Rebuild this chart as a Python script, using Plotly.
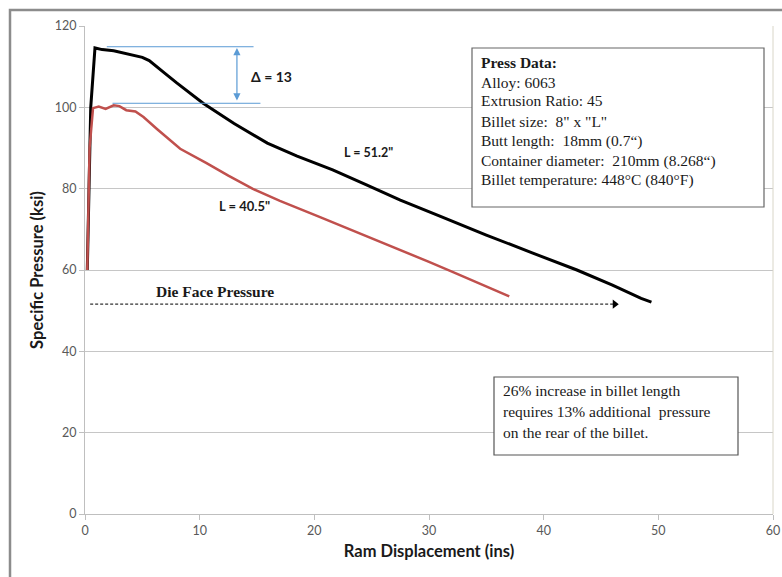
import plotly.graph_objects as go

# ---- data ----
x_long = [0.2, 0.5, 0.87, 1.5, 2.5, 4.0, 5.0, 5.6, 6.2, 7.0, 8.0, 10.3, 13.0, 15.9, 18.5, 21.6, 24.5, 27.5, 31.0, 35.0, 39.0, 42.9, 46.0, 48.5, 49.4]
y_long = [60.0, 100.0, 114.6, 114.2, 113.9, 113.0, 112.3, 111.5, 110.2, 108.3, 106.0, 101.0, 96.0, 91.2, 88.0, 84.6, 81.0, 77.2, 73.2, 68.6, 64.2, 60.0, 56.3, 53.0, 52.1]

x_short = [0.2, 0.4, 0.7, 1.2, 1.8, 2.5, 3.0, 3.6, 4.4, 5.1, 6.3, 7.5, 8.3, 10.6, 12.5, 14.6, 17.0, 20.5, 24.0, 27.5, 30.0, 32.1, 35.0, 37.0]
y_short = [60.0, 90.0, 99.8, 100.2, 99.6, 100.5, 100.3, 99.3, 99.0, 97.6, 94.6, 91.7, 89.8, 86.3, 83.2, 80.0, 77.0, 73.0, 69.0, 65.0, 62.0, 59.5, 56.0, 53.5]

die_face_x = [0.45, 46.2]
die_face_y = [51.6, 51.6]

delta_top = 114.9
delta_bottom = 101.0
delta_arrow_x = 13.25
delta_top_x = [1.9, 14.7]
delta_bottom_x = [2.4, 15.3]

x_ticks = [0, 10, 20, 30, 40, 50, 60]
y_ticks = [0, 20, 40, 60, 80, 100, 120]

press_lines = [
    "<b>Press Data:</b>",
    "Alloy: 6063",
    "Extrusion Ratio: 45",
    "Billet size:  8\" x \"L\"",
    "Butt length:  18mm (0.7\u201c)",
    "Container diameter:  210mm (8.268\u201c)",
    "Billet temperature: 448\u00b0C (840\u00b0F)",
]
note_lines = [
    "26% increase in billet length",
    "requires 13% additional  pressure",
    "on the rear of the billet.",
]

BLUE = "#5b9bd5"
SERIF = "Liberation Serif, Times New Roman, serif"
SANS = "Lato, Open Sans, sans-serif"

# pixel helpers for boxes placed in paper space (plot area 85..773 x 26..514)
PL, PR, PT, PB = 85, 773, 26, 514


def px(xp):
    return (xp - PL) / (PR - PL)


def py(yp):
    return 1 - (yp - PT) / (PB - PT)


fig = go.Figure()

fig.add_trace(go.Scatter(x=x_long, y=y_long, mode="lines",
                         line=dict(color="#000000", width=3), showlegend=False))
fig.add_trace(go.Scatter(x=x_short, y=y_short, mode="lines",
                         line=dict(color="#c0504d", width=2.5), showlegend=False))

# die face pressure dotted arrow
fig.add_trace(go.Scatter(x=die_face_x, y=die_face_y, mode="lines",
                         line=dict(color="#333333", width=1.3, dash="3px,2px"), showlegend=False))
fig.add_trace(go.Scatter(x=[die_face_x[-1]], y=[die_face_y[-1]], mode="markers",
                         marker=dict(symbol="triangle-right", size=8, color="#000000"),
                         showlegend=False))

# delta lines
fig.add_shape(type="line", xref="x", yref="y", x0=delta_top_x[0], x1=delta_top_x[1],
              y0=delta_top, y1=delta_top, line=dict(color=BLUE, width=1))
fig.add_shape(type="line", xref="x", yref="y", x0=delta_bottom_x[0], x1=delta_bottom_x[1],
              y0=delta_bottom, y1=delta_bottom, line=dict(color=BLUE, width=1))
fig.add_annotation(x=delta_arrow_x, y=delta_top - 0.3, ax=delta_arrow_x, ay=delta_bottom + 0.3,
                   xref="x", yref="y", axref="x", ayref="y", text="", showarrow=True,
                   arrowhead=2, arrowside="end+start", arrowsize=1.2, arrowwidth=1.2, arrowcolor=BLUE)
fig.add_annotation(x=16.3, y=107.7, xref="x", yref="y", text="<b>\u0394 = 13</b>",
                   showarrow=False, font=dict(family=SANS, size=14, color="#1a1a1a"))

fig.add_annotation(x=24.7, y=89.0, xref="x", yref="y", text="<b>L = 51.2\"</b>",
                   showarrow=False, font=dict(family=SANS, size=12.5, color="#1a1a1a"))
fig.add_annotation(x=13.9, y=75.7, xref="x", yref="y", text="<b>L = 40.5\"</b>",
                   showarrow=False, font=dict(family=SANS, size=13, color="#1a1a1a"))
fig.add_annotation(x=11.3, y=54.7, xref="x", yref="y", text="<b>Die Face Pressure</b>",
                   showarrow=False, font=dict(family=SERIF, size=15.5, color="#1a1a1a"))

# Press data box
fig.add_shape(type="rect", xref="paper", yref="paper",
              x0=px(472), x1=px(764), y0=py(207), y1=py(48),
              line=dict(color="#666666", width=1.2), fillcolor="white", layer="above")
press_y = [63, 82, 101, 121, 141, 161, 180]
for txt, yy in zip(press_lines, press_y):
    fig.add_annotation(xref="paper", yref="paper", x=px(479), y=py(yy),
                       xanchor="left", yanchor="middle", align="left", showarrow=False,
                       text=txt, font=dict(family=SERIF, size=15.5, color="#1a1a1a"))

# note box
fig.add_shape(type="rect", xref="paper", yref="paper",
              x0=px(494), x1=px(738), y0=py(455), y1=py(377),
              line=dict(color="#555555", width=1.2), fillcolor="white", layer="above")
note_y = [390, 411, 432]
for txt, yy in zip(note_lines, note_y):
    fig.add_annotation(xref="paper", yref="paper", x=px(501), y=py(yy),
                       xanchor="left", yanchor="middle", align="left", showarrow=False,
                       text=txt, font=dict(family=SERIF, size=15.5, color="#1a1a1a"))

# plot area right border
fig.add_shape(type="line", xref="paper", yref="paper", x0=1, x1=1, y0=0, y1=1,
              line=dict(color="#d9d6c8", width=1))

# outer chart frame
fig.add_shape(type="rect", xref="paper", yref="paper",
              x0=px(10), x1=px(800), y0=py(600), y1=py(10),
              line=dict(color="#8c8c8c", width=2.5))

fig.update_layout(
    width=782, height=577,
    margin=dict(l=85, r=9, t=26, b=63, autoexpand=False),
    paper_bgcolor="white", plot_bgcolor="white",
    showlegend=False,
    xaxis=dict(range=[0, 60], tickvals=x_ticks, showgrid=False, zeroline=False,
               automargin=False,
               showline=True, linecolor="#bfbfbf", linewidth=1,
               ticks="outside", ticklen=5, tickcolor="#bfbfbf",
               tickfont=dict(family=SANS, size=12.5, color="#595959"),
               title=dict(text="<b>Ram Displacement (ins)</b>", standoff=8,
                          font=dict(family=SANS, size=16.5, color="#1a1a1a"))),
    yaxis=dict(range=[0, 120], tickvals=y_ticks, showgrid=True, gridcolor="#c6c6c6",
               automargin=False,
               gridwidth=1, zeroline=False, showline=True, linecolor="#bfbfbf", linewidth=1,
               ticks="outside", ticklen=5, tickcolor="#bfbfbf",
               tickfont=dict(family=SANS, size=12.5, color="#595959"),
               title=dict(text="<b>Specific Pressure (ksi)</b>", standoff=6,
                          font=dict(family=SANS, size=16.5, color="#1a1a1a"))),
)

fig.write_html("out.html")
